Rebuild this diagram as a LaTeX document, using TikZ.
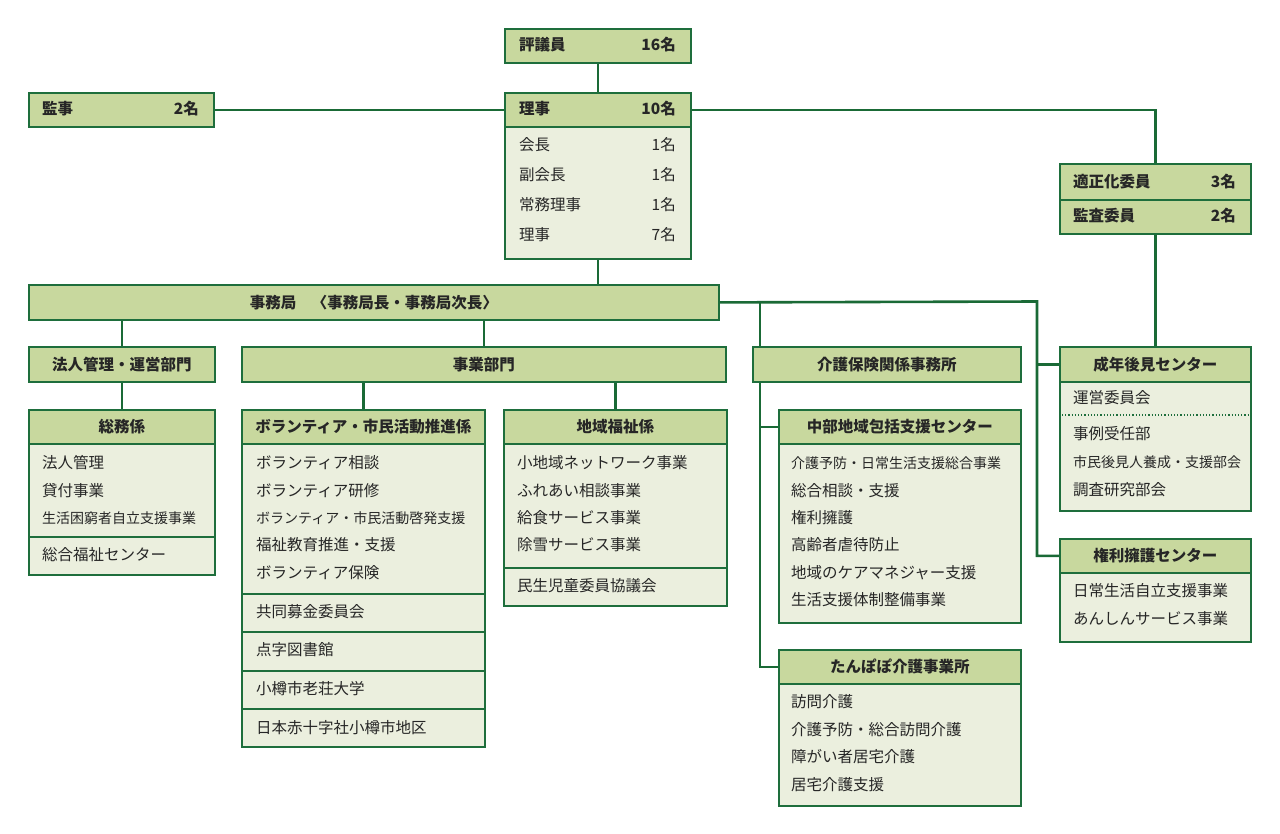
\documentclass[tikz,border=0pt]{standalone}
\usepackage{fontspec}
\setmainfont{Noto Sans CJK JP}
\usetikzlibrary{backgrounds}
\definecolor{bdr}{HTML}{1E6E3C}
\definecolor{lnc}{HTML}{1A6A36}
\definecolor{hfill}{HTML}{C8D89E}
\definecolor{bfill}{HTML}{EBEFDE}
\definecolor{txt}{HTML}{262626}
\newcommand\rfnt{\fontsize{15.5}{18}\selectfont}
\newcommand\hfnt{\fontsize{15.5}{18}\selectfont\bfseries}
\newcommand\sfnt{\fontsize{14}{17}\selectfont}
\tikzset{
  hd/.style={draw=bdr, fill=hfill, line width=1.8pt, anchor=north west, inner sep=0pt, font=\hfnt, text=txt},
  bd/.style={draw=bdr, fill=bfill, line width=1.8pt, anchor=north west, inner sep=0pt},
  ln/.style={draw=lnc, line width=2.6pt},
  it/.style={anchor=west, inner sep=0pt, font=\rfnt, text=txt},
  its/.style={it, font=\sfnt},
  ith/.style={it, font=\hfnt},
  nr/.style={anchor=east, inner sep=0pt, font=\rfnt, text=txt},
  nrh/.style={nr, font=\hfnt},
}
\begin{document}
\begin{tikzpicture}[x=1pt,y=-1pt]
\useasboundingbox (0,0) rectangle (1280,833);

% top
\node[hd, minimum width=186, minimum height=34] (hyo) at (504,28) {};
\node[ith] (hyoT) at (519,45) {評議員};
\node[nrh] (hyoN) at (676,45) {16名};

\node[hd, minimum width=185, minimum height=34] (kanji) at (28,92) {};
\node[ith] (kanjiT) at (42,109) {監事};
\node[nrh] (kanjiN) at (199,109) {2名};

\node[bd, minimum width=186, minimum height=132] (rijiB) at (504,126) {};
\node[hd, minimum width=186, minimum height=34] (riji) at (504,92) {};
\node[ith] (rijiT) at (519,109) {理事};
\node[nrh] (rijiN) at (676,109) {10名};
\node[it] (r1) at (519,145) {会長};
\node[nr] (r1n) at (676,145) {1名};
\node[it] (r2) at (519,175) {副会長};
\node[nr] (r2n) at (676,175) {1名};
\node[it] (r3) at (519,205) {常務理事};
\node[nr] (r3n) at (676,205) {1名};
\node[it] (r4) at (519,235) {理事};
\node[nr] (r4n) at (676,235) {7名};

\node[hd, minimum width=191, minimum height=36] (teki) at (1059,163) {};
\node[ith] (tekiT) at (1073,182) {適正化委員};
\node[nrh] (tekiN) at (1236,182) {3名};
\node[hd, minimum width=191, minimum height=34] (kansa) at (1059,199) {};
\node[ith] (kansaT) at (1073,216) {監査委員};
\node[nrh] (kansaN) at (1236,216) {2名};

% secretariat
\node[hd, minimum width=690, minimum height=35] (jimu) at (28,284) {事務局\quad〈事務局長・事務局次長〉};

% departments
\node[hd, minimum width=186, minimum height=35] (houjin) at (28,346) {法人管理・運営部門};
\node[hd, minimum width=484, minimum height=35] (jigyo) at (241,346) {事業部門};
\node[hd, minimum width=268, minimum height=35] (kaigo) at (752,346) {介護保険関係事務所};

% seinen koken
\node[bd, minimum width=191, minimum height=129] (seinenB) at (1059,381) {};
\node[hd, minimum width=191, minimum height=35] (seinen) at (1059,346) {成年後見センター};
\node[it] (s1) at (1073,398) {運営委員会};
\draw[bdr, line width=1.2pt, dotted] ([xshift=3pt]seinenB.west |- 0,415) -- ([xshift=-3pt]seinenB.east |- 0,415);
\node[it] (s2) at (1073,434) {事例受任部};
\node[its] (s3) at (1073,462) {市民後見人養成・支援部会};
\node[it] (s4) at (1073,490) {調査研究部会};

% kenri
\node[bd, minimum width=191, minimum height=69] (kenriB) at (1059,572) {};
\node[hd, minimum width=191, minimum height=34] (kenri) at (1059,538) {権利擁護センター};
\node[it] (k1) at (1073,591) {日常生活自立支援事業};
\node[it] (k2) at (1073,619) {あんしんサービス事業};

% soumu
\node[bd, minimum width=186, minimum height=93] (soumuB) at (28,443) {};
\node[bd, minimum width=186, minimum height=38] (soumuS) at (28,536) {};
\node[hd, minimum width=186, minimum height=34] (soumu) at (28,409) {総務係};
\node[it] (so1) at (42,463) {法人管理};
\node[it] (so2) at (42,491) {貸付事業};
\node[its] (so3) at (42,518) {生活困窮者自立支援事業};
\node[it] (so4) at (42,555) {総合福祉センター};

% volunteer
\node[bd, minimum width=243, minimum height=150] (volB) at (241,443) {};
\node[bd, minimum width=243, minimum height=38] (volS1) at (241,593) {};
\node[bd, minimum width=243, minimum height=39] (volS2) at (241,631) {};
\node[bd, minimum width=243, minimum height=38] (volS3) at (241,670) {};
\node[bd, minimum width=243, minimum height=38] (volS4) at (241,708) {};
\node[hd, minimum width=243, minimum height=34] (vol) at (241,409) {ボランティア・市民活動推進係};
\node[it] (v1) at (256,463) {ボランティア相談};
\node[it] (v2) at (256,491) {ボランティア研修};
\node[its] (v3) at (256,518) {ボランティア・市民活動啓発支援};
\node[it] (v4) at (256,545) {福祉教育推進・支援};
\node[it] (v5) at (256,573) {ボランティア保険};
\node[it] (v6) at (256,612) {共同募金委員会};
\node[it] (v7) at (256,650) {点字図書館};
\node[it] (v8) at (256,689) {小樽市老荘大学};
\node[it] (v9) at (256,728) {日本赤十字社小樽市地区};

% chiiki
\node[bd, minimum width=223, minimum height=124] (chiikiB) at (503,443) {};
\node[bd, minimum width=223, minimum height=38] (chiikiS) at (503,567) {};
\node[hd, minimum width=223, minimum height=34] (chiiki) at (503,409) {地域福祉係};
\node[it] (c1) at (517,463) {小地域ネットワーク事業};
\node[it] (c2) at (517,491) {ふれあい相談事業};
\node[it] (c3) at (517,518) {給食サービス事業};
\node[it] (c4) at (517,545) {除雪サービス事業};
\node[it] (c5) at (517,586) {民生児童委員協議会};

% chubu
\node[bd, minimum width=242, minimum height=179] (chubuB) at (778,443) {};
\node[hd, minimum width=242, minimum height=34] (chubu) at (778,409) {中部地域包括支援センター};
\node[its] (h1) at (791,463) {介護予防・日常生活支援総合事業};
\node[it] (h2) at (791,491) {総合相談・支援};
\node[it] (h3) at (791,518) {権利擁護};
\node[it] (h4) at (791,545) {高齢者虐待防止};
\node[it] (h5) at (791,573) {地域のケアマネジャー支援};
\node[it] (h6) at (791,600) {生活支援体制整備事業};

% tanpopo
\node[bd, minimum width=242, minimum height=122] (tanB) at (778,683) {};
\node[hd, minimum width=242, minimum height=34] (tan) at (778,649) {たんぽぽ介護事業所};
\node[it] (t1) at (791,702) {訪問介護};
\node[it] (t2) at (791,730) {介護予防・総合訪問介護};
\node[it] (t3) at (791,757) {障がい者居宅介護};
\node[it] (t4) at (791,785) {居宅介護支援};

% connectors
\coordinate (va) at (760,301.5);
\coordinate (vb) at (1037,301.5);
\begin{pgfonlayer}{background}
\draw[ln] (hyo.south) -- (riji.north);
\draw[ln] (kanji.east) -- (riji.west);
\draw[ln] (riji.east) -| (teki.north);
\draw[ln] (kansa.south) -- (seinen.north);
\draw[ln] (rijiB.south) -- (rijiB.south |- jimu.north);
\draw[ln] (jimu.east) -- (vb) |- (kenri.west);
\draw[ln] (vb |- seinen.west) -- (seinen.west);
\draw[ln] (va) |- (tan.west);
\draw[ln] (va |- chubu.west) -- (chubu.west);
\draw[ln] (houjin.north |- jimu.south) -- (houjin.north);
\draw[ln] (jigyo.north |- jimu.south) -- (jigyo.north);
\draw[ln] (houjin.south) -- (soumu.north);
\draw[ln] (vol.north |- jigyo.south) -- (vol.north);
\draw[ln] (chiiki.north |- jigyo.south) -- (chiiki.north);
\end{pgfonlayer}
\end{tikzpicture}
\end{document}
